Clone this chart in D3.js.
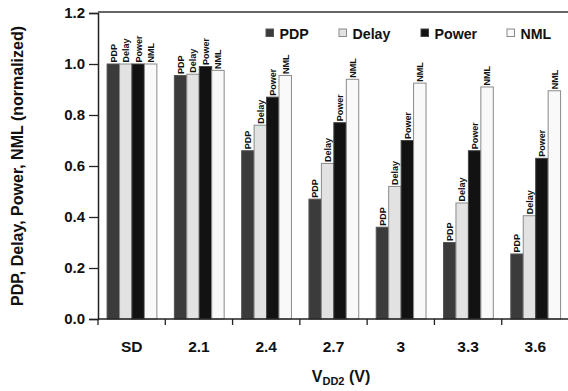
<!DOCTYPE html>
<html>
<head>
<meta charset="utf-8">
<script src="https://cdn.jsdelivr.net/npm/d3@7"></script>
<style>
  html, body { margin: 0; padding: 0; background: #fff; }
  svg { display: block; font-family: "Liberation Sans", Arial, sans-serif; font-weight: bold; }
</style>
</head>
<body>
<svg id="chart" width="568" height="391"></svg>
<script>
// Supply voltage groups (SD = standard design)
const categories = ["SD", "2.1", "2.4", "2.7", "3", "3.3", "3.6"];
const seriesNames = ["PDP", "Delay", "Power", "NML"];
// Normalized values per series, one per category
const pdp   = [1.00, 0.955, 0.66, 0.47, 0.36, 0.30, 0.255];
const delay = [1.00, 0.96, 0.76, 0.61, 0.52, 0.455, 0.405];
const power = [1.00, 0.99, 0.87, 0.77, 0.70, 0.66, 0.63];
const nml   = [1.00, 0.975, 0.955, 0.94, 0.925, 0.91, 0.895];
const yTicks = [0.0, 0.2, 0.4, 0.6, 0.8, 1.0, 1.2];

const seriesValues = { PDP: pdp, Delay: delay, Power: power, NML: nml };
const fills   = { PDP: "#3b3b3b", Delay: "#e2e2e2", Power: "#121212", NML: "#f9f9f9" };
const strokes = { PDP: "#555",    Delay: "#8a8a8a", Power: "#444",    NML: "#8a8a8a" };

const svg = d3.select("#chart");
const plotLeft = 98, plotRight = 569, plotTop = 13, plotBottom = 319;
const font = "Liberation Sans, Arial, sans-serif";

const y = d3.scaleLinear().domain([0, 1.2]).range([plotBottom, plotTop]);
const x0 = d3.scaleBand().domain(categories).range([plotLeft, plotRight]).padding(0);
const x1 = d3.scaleBand().domain(seriesNames)
  .range([x0.bandwidth() * 0.135, x0.bandwidth() * 0.875]).padding(0);

const rows = categories.map((c, i) => ({
  cat: c,
  bars: seriesNames.map(s => ({ s, v: seriesValues[s][i] }))
}));

// Bars
const groups = svg.append("g").selectAll("g").data(rows).join("g")
  .attr("transform", d => `translate(${x0(d.cat)},0)`);

groups.selectAll("rect").data(d => d.bars).join("rect")
  .attr("x", d => x1(d.s))
  .attr("y", d => y(d.v))
  .attr("width", x1.bandwidth())
  .attr("height", d => y(0) - y(d.v))
  .attr("fill", d => fills[d.s])
  .attr("stroke", d => strokes[d.s])
  .attr("stroke-width", 1);

// Rotated series labels above each bar
groups.selectAll("text").data(d => d.bars).join("text")
  .attr("transform", d => `translate(${x1(d.s) + x1.bandwidth() / 2 + 3.3},${y(d.v) - 1.5}) rotate(-90)`)
  .attr("font-size", 9)
  .attr("fill", "#111")
  .text(d => d.s);

// Y axis
const yAxis = d3.axisLeft(y).tickValues(yTicks).tickFormat(d3.format(".1f")).tickSize(9).tickPadding(4);
const gy = svg.append("g").attr("transform", `translate(${plotLeft},0)`).call(yAxis);
gy.select(".domain").attr("stroke", "#222").attr("stroke-width", 1.5);
gy.selectAll(".tick line").attr("stroke", "#222").attr("stroke-width", 1.3);
gy.selectAll(".tick text").attr("font-size", 15).attr("fill", "#111")
  .attr("font-family", font).attr("font-weight", "bold");

// X axis (labels centred in bands, ticks at band boundaries)
const xAxis = d3.axisBottom(x0).tickSize(0).tickPadding(22);
const gx = svg.append("g").attr("transform", `translate(0,${plotBottom})`).call(xAxis);
gx.select(".domain").remove();
gx.selectAll(".tick text").attr("font-size", 15.5).attr("fill", "#111")
  .attr("font-family", font).attr("font-weight", "bold");

const boundaries = categories.map(c => x0(c)).concat([x0(categories[categories.length - 1]) + x0.bandwidth()]);
svg.append("g").selectAll("line").data(boundaries).join("line")
  .attr("x1", d => d).attr("x2", d => d)
  .attr("y1", plotBottom).attr("y2", plotBottom + 6)
  .attr("stroke", "#222").attr("stroke-width", 1.3);

svg.append("line").attr("x1", plotLeft).attr("x2", plotRight).attr("y1", plotBottom).attr("y2", plotBottom)
  .attr("stroke", "#222").attr("stroke-width", 1.5);
// Top frame line
svg.append("line").attr("x1", plotLeft).attr("x2", plotRight).attr("y1", plotTop - 1).attr("y2", plotTop - 1)
  .attr("stroke", "#333").attr("stroke-width", 1.3);

// Axis titles
svg.append("text")
  .attr("transform", `translate(23,166) rotate(-90)`)
  .attr("text-anchor", "middle")
  .attr("font-size", 16).attr("fill", "#111")
  .text("PDP, Delay, Power, NML (normalized)");

const xt = svg.append("text")
  .attr("x", 341).attr("y", 382)
  .attr("text-anchor", "middle")
  .attr("font-size", 16).attr("fill", "#111");
xt.append("tspan").text("V");
xt.append("tspan").attr("font-size", 11).attr("dy", 2.5).text("DD2");
xt.append("tspan").attr("dy", -2.5).text(" (V)");

// Legend
const legendX = [266, 339, 421, 507];
const lg = svg.append("g").selectAll("g").data(seriesNames).join("g")
  .attr("transform", (d, i) => `translate(${legendX[i]},29)`);
lg.append("rect").attr("width", 7.5).attr("height", 7.5)
  .attr("fill", d => fills[d]).attr("stroke", d => strokes[d]).attr("stroke-width", 1);
lg.append("text").attr("x", 13.5).attr("y", 10)
  .attr("font-size", 14.2).attr("fill", "#111").text(d => d);
</script>
</body>
</html>
